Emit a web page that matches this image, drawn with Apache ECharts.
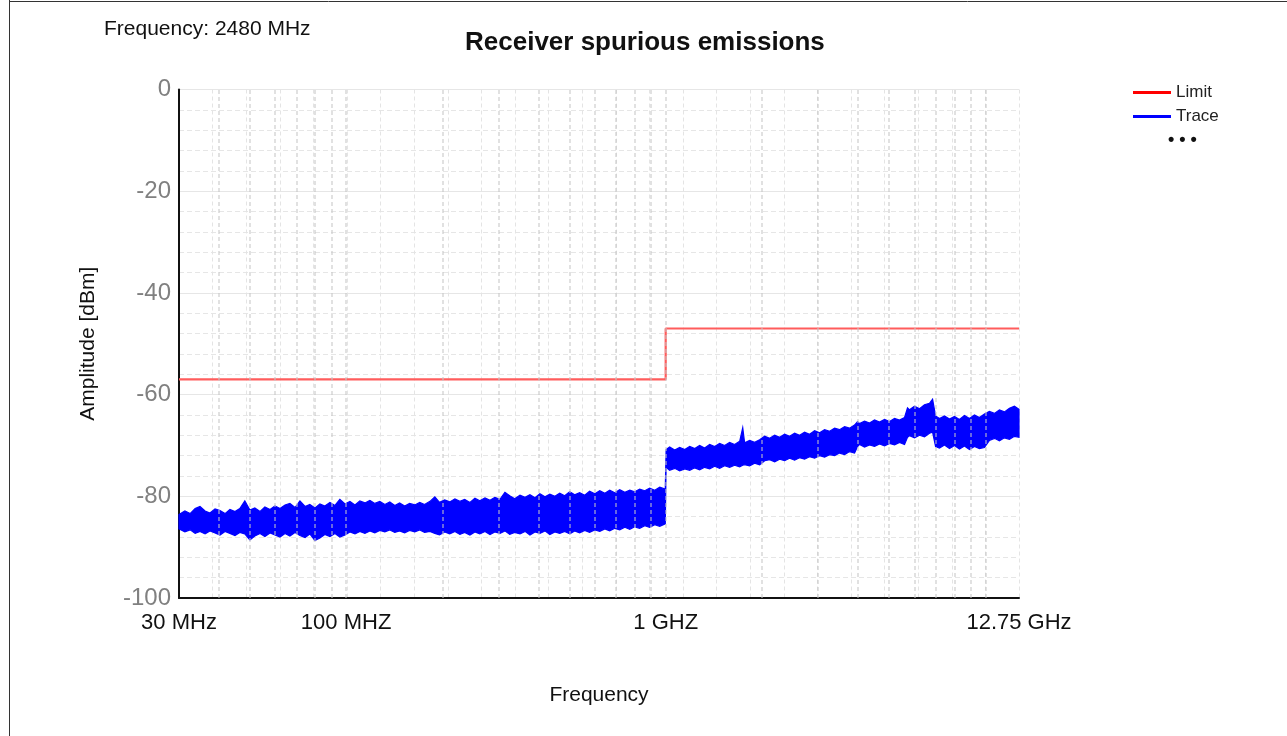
<!DOCTYPE html>
<html><head><meta charset="utf-8">
<script src="https://cdn.jsdelivr.net/npm/echarts@6/dist/echarts.min.js"></script>
<style>html,body{margin:0;padding:0;background:#fff}#c{width:1287px;height:736px}</style>
</head><body><div id="c"></div>
<script>
// Axis tick labels (x: frequency in MHz)
const xTickValues = [30, 100, 1000, 12750];
const xTickLabels = ['30 MHz', '100 MHZ', '1 GHZ', '12.75 GHz'];
// Logarithmic grid frequencies (MHz)
const gridFreqs = [40,50,60,70,80,90,100,200,300,400,500,600,700,800,900,1000,2000,3000,4000,5000,6000,7000,8000,9000,10000];
// Limit line
const limitFreq = [30, 1000, 1000, 12750];
const limitValue = [-57, -57, -47, -47];
// Trace envelope: frequency (MHz), upper and lower edge of the noisy trace (dBm)
const traceFreq = [30,31.3,32.5,33.7,34.9,36.2,37.5,38.9,40.3,41.8,43.3,44.9,46.5,48.2,50,51.8,53.8,55.7,57.8,59.9,62.1,64.4,66.7,69.2,71.7,74.4,77,79.9,82.8,85.8,89,92.3,95.6,99.2,102.8,106.6,110.4,114.5,118.7,123,127.5,132.2,137,142,147,152.5,158,164,170,176,183,189.5,196,203.5,211,219,227,235,244,253,262,272,282,292,303,314,325,337,350,363,376,390,404,419,434,450,466,483,501,519,538,558,578,600,622,645,668,693,718,745,772,800,829,860,891,924,958,997,
1003,1029,1067,1106,1147,1189,1233,1277,1324,1373,1423,1475,1529,1585,1643,1704,1742,1766,1831,1898,1968,2040,2115,2193,2273,2356,2442,2532,2624,2720,2820,2924,3031,3142,3257,3377,3500,3629,3761,3899,3985,4042,4190,4344,4503,4668,4840,5017,5201,5391,5589,5710,5793,6006,6226,6454,6690,6840,6990,7190,7454,7727,8010,8303,8608,8923,9250,9589,9940,10304,10682,11073,11479,11900,12336,12750];
const traceHi = [-83.6,-82.9,-83.4,-82.4,-82.0,-82.9,-83.3,-82.5,-82.8,-83.4,-82.6,-83.0,-82.4,-80.9,-82.7,-82.3,-83.0,-82.1,-82.6,-81.9,-82.4,-81.7,-81.4,-82.2,-80.9,-82.0,-81.6,-82.3,-81.5,-81.9,-81.2,-81.8,-80.6,-81.5,-81.0,-81.7,-80.9,-81.3,-80.8,-81.4,-81.0,-81.6,-81.1,-81.8,-81.3,-81.9,-81.4,-81.7,-81.2,-81.6,-81.0,-80.1,-81.2,-80.7,-81.1,-80.5,-81.0,-80.6,-81.2,-80.4,-80.9,-80.3,-80.8,-80.2,-80.6,-79.2,-79.9,-80.5,-79.8,-80.2,-79.7,-80.3,-79.5,-80.1,-79.6,-80.0,-79.4,-79.9,-79.1,-79.7,-79.3,-79.8,-79.0,-79.5,-78.9,-79.4,-78.8,-79.3,-78.7,-79.2,-78.8,-79.1,-78.6,-78.9,-78.4,-78.8,-78.2,-78.6,
-70.8,-70.3,-70.9,-70.4,-70.8,-70.2,-70.6,-70.0,-70.5,-69.8,-70.2,-69.6,-70.0,-69.4,-69.8,-69.2,-66.5,-69.5,-69.0,-69.4,-68.9,-68.2,-68.6,-68.0,-68.4,-67.8,-68.2,-67.6,-68.0,-67.4,-67.8,-67.1,-67.5,-66.9,-67.2,-66.6,-66.9,-66.3,-66.6,-66.0,-65.3,-65.7,-65.2,-65.6,-65.0,-65.4,-64.9,-65.3,-64.7,-65.0,-64.5,-62.6,-63.0,-62.3,-62.8,-62.0,-61.7,-60.9,-64.2,-64.7,-64.2,-64.8,-64.3,-64.9,-64.1,-64.7,-64.0,-64.5,-63.8,-63.3,-63.7,-63.0,-63.4,-62.7,-62.3,-62.9];
const traceLo = [-86.4,-87.0,-86.6,-87.3,-86.9,-87.4,-86.8,-87.2,-87.6,-86.9,-87.3,-87.7,-87.1,-87.4,-88.6,-87.8,-87.3,-87.9,-87.2,-87.6,-88.0,-87.3,-87.8,-87.1,-87.7,-88.1,-87.4,-88.7,-88.2,-87.5,-87.9,-87.3,-88.0,-87.6,-87.0,-87.4,-86.9,-87.3,-86.8,-87.2,-86.7,-87.0,-86.6,-87.1,-86.8,-87.2,-86.7,-87.0,-86.6,-87.1,-86.9,-87.3,-87.6,-87.0,-87.4,-86.9,-87.5,-87.1,-87.6,-87.0,-87.4,-86.9,-87.5,-87.0,-87.3,-86.8,-87.5,-87.1,-87.4,-86.9,-87.6,-87.0,-87.3,-86.8,-87.5,-87.0,-87.3,-86.9,-87.4,-86.8,-87.2,-86.7,-87.1,-86.6,-86.9,-86.4,-86.8,-86.3,-86.6,-86.1,-86.5,-86.0,-86.3,-85.8,-86.1,-85.6,-85.9,-85.4,
-74.3,-74.9,-74.5,-75.0,-74.6,-74.9,-74.4,-74.8,-74.3,-74.6,-74.1,-74.5,-74.0,-74.3,-73.9,-74.2,-73.9,-73.8,-74.0,-73.5,-73.8,-73.0,-72.8,-73.2,-72.7,-73.0,-72.5,-72.9,-72.4,-72.7,-72.2,-72.5,-72.0,-72.3,-71.8,-72.0,-71.5,-71.8,-71.2,-71.5,-70.2,-69.8,-70.3,-69.9,-70.2,-69.7,-70.1,-69.6,-69.9,-69.4,-69.8,-68.4,-68.1,-68.5,-68.0,-68.3,-67.6,-67.4,-70.2,-70.5,-69.9,-70.6,-70.0,-70.7,-70.1,-70.8,-70.2,-70.6,-70.4,-69.0,-68.6,-69.1,-68.5,-68.8,-68.2,-68.4];

const FONT = '"Liberation Sans", Arial, sans-serif';
const chart = echarts.init(document.getElementById('c'));

const traceData = traceFreq.map((f, i) => [f, traceHi[i], traceLo[i]]);
const limitData = limitFreq.map((f, i) => [f, limitValue[i]]);

chart.setOption({
  animation: false,
  backgroundColor: '#ffffff',
  title: {
    text: 'Receiver spurious emissions',
    left: 460, top: 25,
    textStyle: { fontFamily: FONT, fontSize: 26, fontWeight: 'bold', color: '#111' }
  },
  legend: {
    orient: 'vertical', left: 1128, top: 79,
    itemWidth: 38, itemHeight: 3, itemGap: 7, icon: 'rect',
    textStyle: { fontFamily: FONT, fontSize: 17, color: '#222' },
    data: ['Limit', 'Trace']
  },
  graphic: [
    { type: 'text', left: 104, top: 19, style: { text: 'Frequency: 2480 MHz', font: '21px ' + FONT, fill: '#111' } },
    { type: 'text', left: 1168, top: 131, style: { text: '• • •', font: 'bold 18px ' + FONT, fill: '#111' } },
    { type: 'line', shape: { x1: 9.5, y1: 0, x2: 9.5, y2: 736 }, style: { stroke: '#333', lineWidth: 1 } },
    { type: 'line', shape: { x1: 9, y1: 1.5, x2: 1287, y2: 1.5 }, style: { stroke: '#333', lineWidth: 1 } }
  ],
  grid: { left: 179, right: 268, top: 89.5, bottom: 138 },
  xAxis: [{
    type: 'log', logBase: 10, min: 30, max: 12750,
    name: 'Frequency', nameLocation: 'middle', nameGap: 87,
    nameTextStyle: { fontFamily: FONT, fontSize: 21, color: '#111' },
    axisLine: { show: true, onZero: false, lineStyle: { color: '#111', width: 2 } },
    axisTick: { show: false },
    splitLine: { show: false },
    axisLabel: {
      fontFamily: FONT, fontSize: 22, color: '#111', margin: 14,
      showMinLabel: true, showMaxLabel: true,
      formatter: function (v) {
        const i = xTickValues.findIndex(t => Math.abs(t - v) / t < 0.01);
        return i >= 0 ? xTickLabels[i] : '';
      }
    }
  }, {
    type: 'value', min: 0, max: 25, interval: 1, position: 'top',
    axisLine: { show: false }, axisTick: { show: false }, axisLabel: { show: false },
    splitLine: { show: true, lineStyle: { color: '#e4e4e4', type: [4, 3], width: 1 } }
  }],
  yAxis: {
    type: 'value', min: -100, max: 0, interval: 20,
    name: 'Amplitude [dBm]', nameLocation: 'middle', nameGap: 80,
    nameTextStyle: { fontFamily: FONT, fontSize: 21, color: '#111' },
    axisLine: { show: true, onZero: false, lineStyle: { color: '#111', width: 2 } },
    axisTick: { show: false },
    axisLabel: { fontFamily: FONT, fontSize: 24, color: '#808080', margin: 8 },
    splitLine: { show: true, lineStyle: { color: '#e6e6e6', width: 1 } },
    minorTick: { show: false, splitNumber: 5 },
    minorSplitLine: { show: true, lineStyle: { color: '#e6e6e6', type: [5, 3], width: 1 } }
  },
  series: [
    {
      name: 'grid', type: 'line', data: [[30, -100]], symbol: 'none', silent: true, z: 1,
      lineStyle: { opacity: 0 },
      markLine: {
        silent: true, symbol: ['none', 'none'], label: { show: false },
        lineStyle: { color: '#c4c4c4', type: [4, 3], width: 1.5, opacity: 0.7 },
        emphasis: { disabled: true },
        data: gridFreqs.map(f => ({ xAxis: f }))
      }
    },
    {
      name: 'Trace', type: 'custom', z: 3,
      itemStyle: { color: '#0000ff' },
      encode: { x: 0, y: [1, 2] },
      data: traceData,
      renderItem: function (params, api) {
        if (params.dataIndex !== 0) return null;
        const pts = [];
        for (let i = 0; i < traceData.length; i++) pts.push(api.coord([traceData[i][0], traceData[i][1]]));
        for (let i = traceData.length - 1; i >= 0; i--) pts.push(api.coord([traceData[i][0], traceData[i][2]]));
        return { type: 'polygon', shape: { points: pts }, style: { fill: '#0000ff', stroke: '#0000ff', lineWidth: 1.2 } };
      }
    },
    {
      name: 'Limit', type: 'line', data: limitData, symbol: 'none', z: 4,
      itemStyle: { color: '#ff0000' },
      lineStyle: { color: '#ff5c5c', width: 2.2 }
    }
  ]
});
</script></body></html>
